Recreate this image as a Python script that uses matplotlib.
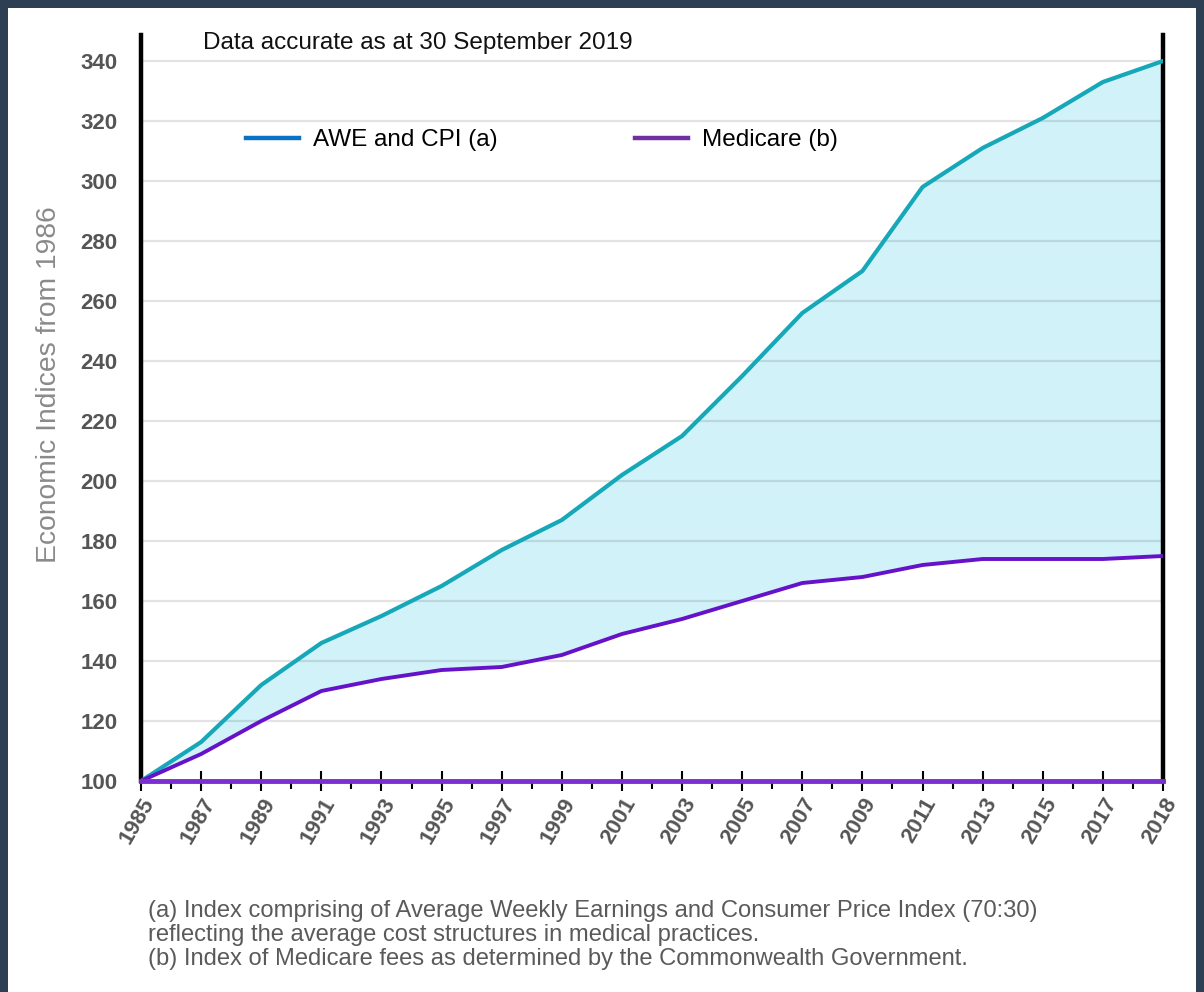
import numpy as np
import matplotlib
matplotlib.use("Agg")
import matplotlib.pyplot as plt
from matplotlib.patches import Rectangle
from matplotlib.lines import Line2D

plt.rcParams['font.family'] = ['Liberation Sans', 'DejaVu Sans']

# categories on the x axis (two-year steps, then 2018)
years = ['1985', '1987', '1989', '1991', '1993', '1995', '1997', '1999', '2001',
         '2003', '2005', '2007', '2009', '2011', '2013', '2015', '2017', '2018']
awe_cpi = [100, 113, 132, 146, 155, 165, 177, 187, 202,
           215, 235, 256, 270, 298, 311, 321, 333, 340]
medicare = [100, 109, 120, 130, 134, 137, 138, 142, 149,
            154, 160, 166, 168, 172, 174, 174, 174, 175]
y_ticks = [100, 120, 140, 160, 180, 200, 220, 240, 260, 280, 300, 320, 340]

footnotes = [
    "(a) Index comprising of Average Weekly Earnings and Consumer Price Index (70:30)",
    "reflecting the average cost structures in medical practices.",
    "(b) Index of Medicare fees as determined by the Commonwealth Government.",
]

W, H = 1204, 992
fig = plt.figure(figsize=(W / 100, H / 100), dpi=100, facecolor='#2d3f52')
fig.patches.append(Rectangle((8 / W, 0), (W - 16) / W, (H - 8) / H,
                             transform=fig.transFigure, facecolor='white',
                             edgecolor='none', zorder=-10))

ax = fig.add_axes([141 / W, 1 - 781 / H, (1163 - 141) / W, (781 - 35) / H])
ax.set_zorder(5)
ax.set_facecolor('none')

x = np.arange(len(years))
ax.fill_between(x, medicare, awe_cpi, color='#d0f2f8', lw=0, zorder=1)
ax.plot(x, awe_cpi, color='#16a8b8', lw=3.0, zorder=3, solid_joinstyle='round')
ax.plot(x, medicare, color='#6512c8', lw=2.8, zorder=3, solid_joinstyle='round')
ax.axhline(100, color='#7b2fd0', lw=3.5, zorder=4, clip_on=False)

ax.set_xlim(0, len(years) - 1)
ax.set_ylim(100, 100 + (781 - 35) / 3)

ax.set_yticks(y_ticks)
ax.set_yticklabels([str(v) for v in y_ticks], fontsize=16, fontweight='bold', color='#555555')
ax.tick_params(axis='y', length=0, pad=17)
ax.grid(axis='y', color='black', alpha=0.11, lw=1.6)
ax.set_axisbelow(False)

ax.set_xticks(x)
ax.set_xticklabels(years, rotation=60, ha='right', va='top', rotation_mode='anchor',
                   fontsize=16, fontweight='bold', color='#555555')
ax.set_xticks(x[:-1] + 0.5, minor=True)
ax.tick_params(axis='x', which='major', direction='inout', length=15, width=1.5,
               color='black', pad=2)
ax.tick_params(axis='x', which='minor', direction='out', length=6, width=1.5, color='black')

ax.spines['top'].set_visible(False)
ax.spines['left'].set_linewidth(3.2)
ax.spines['right'].set_linewidth(3.2)
ax.spines['left'].set_color('black')
ax.spines['right'].set_color('black')
ax.spines['bottom'].set_linewidth(1.5)

ax.set_ylabel('Economic Indices from 1986', fontsize=20.3, color='#8a8a8a')
ax.yaxis.set_label_coords(-0.077, 0.531)

handles = [Line2D([], [], color='#0a72c2', lw=3.2),
           Line2D([], [], color='#7030a0', lw=3.2)]
ax.legend(handles, ['AWE and CPI (a)', 'Medicare (b)'], loc='center left',
          bbox_to_anchor=((246 - 141) / 1022, (781 - 140) / 746), ncol=2, frameon=False,
          fontsize=17.5, handlelength=2.2, handletextpad=0.55, columnspacing=5.65,
          borderaxespad=0, borderpad=0)

fig.text(203 / W, 1 - 43 / H, 'Data accurate as at 30 September 2019',
         fontsize=17.5, color='#111111', ha='left', va='center')

for i, line in enumerate(footnotes):
    fig.text(148 / W, 1 - (911 + 24 * i) / H, line, fontsize=17.1, color='#5a5a5a',
             ha='left', va='center')

fig.savefig('out.png', dpi=100, facecolor=fig.get_facecolor())
